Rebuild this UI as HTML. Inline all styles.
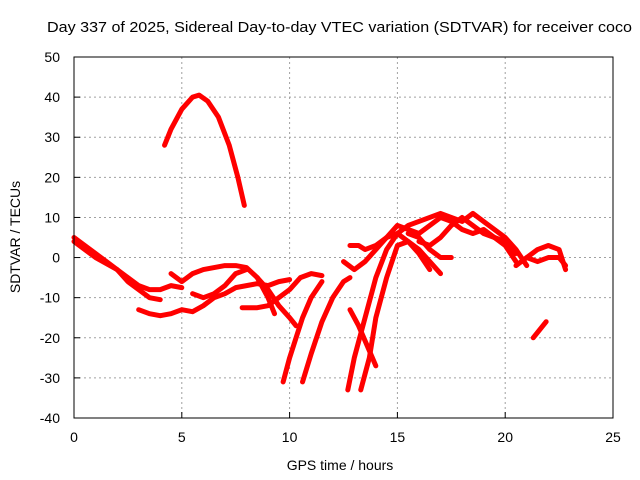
<!DOCTYPE html>
<html><head><meta charset="utf-8"><style>
body{margin:0;background:#fff}
svg{display:block;font-family:"Liberation Sans",sans-serif}
</style></head><body>
<svg id="chart" width="640" height="480" viewBox="0 0 640 480" xmlns="http://www.w3.org/2000/svg">
<rect width="640" height="480" fill="#fff"/>
<text x="47" y="32" font-size="15" textLength="585" lengthAdjust="spacingAndGlyphs">Day 337 of 2025, Sidereal Day-to-day VTEC variation (SDTVAR) for receiver coco</text>
<g id="grid"></g>
<g id="ticks" font-size="14"></g>
<g id="series"></g>
<rect x="74" y="57" width="539" height="361" fill="none" stroke="#000"/>
<text x="340" y="470" font-size="14" text-anchor="middle">GPS time / hours</text>
<text transform="translate(20,237) rotate(-90)" font-size="14" text-anchor="middle">SDTVAR / TECUs</text>
</svg>
<script>
const xTicks=[0,5,10,15,20,25];
const yTicks=[-40,-30,-20,-10,0,10,20,30,40,50];
const track1=[[4.2,28],[4.5,32],[5,37],[5.5,40],[5.8,40.5],[6.2,39],[6.7,35],[7.2,28],[7.6,20],[7.9,13]];
const track2=[[0,5],[0.5,3],[1,1],[1.5,-1],[2,-3],[2.5,-5],[3,-7],[3.5,-8],[4,-8],[4.5,-7],[5,-7.5]];
const track3=[[0,4],[1,0],[2,-3],[2.5,-6],[3,-8],[3.5,-10],[4,-10.5]];
const track4=[[4.5,-4],[5,-6],[5.5,-4],[6,-3],[7,-2],[7.5,-2],[8,-2.5],[8.5,-5],[9,-10],[9.3,-14]];
const track5=[[3,-13],[3.5,-14],[4,-14.5],[4.5,-14],[5,-13],[5.5,-13.5],[6,-12],[6.5,-10],[7,-9],[7.5,-7.5],[8,-7],[8.5,-6.5],[9,-7],[9.5,-6],[10,-5.5]];
const track6=[[5.5,-9],[6,-10],[6.5,-9],[7,-7],[7.5,-4],[8,-3]];
const track7=[[7.8,-12.5],[8.5,-12.5],[9,-12],[9.5,-10],[10,-8],[10.5,-5],[11,-4],[11.5,-4.5]];
const track8=[[8.5,-5],[9,-8],[9.5,-12],[10,-15],[10.3,-17]];
const track9=[[9.7,-31],[10,-25],[10.3,-20],[10.6,-15],[11,-10],[11.5,-6]];
const track10=[[10.6,-31],[11,-24],[11.5,-16],[12,-10],[12.5,-6],[12.8,-5]];
const track11=[[12.7,-33],[13,-25],[13.5,-15],[14,-5],[14.5,2],[15,6],[15.5,8],[16,9],[16.5,10],[17,11],[17.5,10],[18,9],[18.5,11],[19,9],[19.5,7],[20,5],[20.5,2],[21,-2]];
const track12=[[13.3,-33],[13.7,-25],[14,-15],[14.5,-5],[15,3],[15.5,4],[16,1],[16.5,-3]];
const track13=[[12.5,-1],[13,-3],[13.5,-1],[14,2],[14.5,5],[15,8],[15.5,7],[16,6],[16.5,8],[17,10],[17.5,9],[18,7],[18.5,6],[19,7],[19.5,5],[20,3],[20.5,-1]];
const track14=[[12.8,-13],[13.2,-17],[13.6,-22],[14,-27]];
const track15=[[12.8,3],[13.2,3],[13.5,2],[14,3],[14.5,5],[15,6],[15.5,4],[16,2],[16.5,-1],[17,-4]];
const track16=[[15.5,6],[16,5],[16.5,2],[17,0],[17.5,0]];
const track17=[[20.5,-2],[21,0],[21.5,2],[22,3],[22.5,2],[22.8,-3]];
const track18=[[21,0],[21.5,-1],[22,0],[22.5,0],[22.8,-2]];
const track19=[[21.3,-20],[21.9,-16]];
const track20=[[16,4],[16.5,3],[17,5],[17.5,8],[18,10],[18.5,8],[19,6],[19.5,5],[20,4],[20.5,1]];
const tracks=[track1,track2,track3,track4,track5,track6,track7,track8,track9,track10,track11,track12,track13,track14,track15,track16,track17,track18,track19,track20];

const NS="http://www.w3.org/2000/svg";
const X0=74,X1=613,Y0=418,Y1=57;
const xs=v=>X0+(v-0)/(25-0)*(X1-X0);
const ys=v=>Y0-(v+40)/90*(Y0-Y1);
function mk(t,a){const e=document.createElementNS(NS,t);for(const k in a)e.setAttribute(k,a[k]);return e;}
const grid=document.getElementById('grid'),ticks=document.getElementById('ticks'),ser=document.getElementById('series');
xTicks.forEach(t=>{
  const x=xs(t);
  if(t>0&&t<25){const l=mk('line',{x1:x,x2:x,y1:Y1,y2:Y0,stroke:'#a0a0a0','stroke-dasharray':'2,3'});
  
  grid.appendChild(l);}
  const tk=mk('line',{x1:x,x2:x,y1:Y0,y2:Y0-6,stroke:'#000'});
  
  ticks.appendChild(tk);
  const tx=mk('text',{x:x,y:Y0+24,'text-anchor':'middle'});tx.textContent=t;
  
  ticks.appendChild(tx);
});
yTicks.forEach(t=>{
  const y=ys(t);
  if(t>-40&&t<50){const l=mk('line',{x1:X0,x2:X1,y1:y,y2:y,stroke:'#a0a0a0','stroke-dasharray':'2,3'});
  
  grid.appendChild(l);}
  const tk=mk('line',{x1:X0,x2:X0+6,y1:y,y2:y,stroke:'#000'});
  
  ticks.appendChild(tk);
  const tx=mk('text',{x:X0-14,y:y+5,'text-anchor':'end'});tx.textContent=t;
  
  ticks.appendChild(tx);
});
tracks.forEach(tr=>{
  const p=mk('polyline',{points:tr.map(d=>xs(d[0])+','+ys(d[1])).join(' '),fill:'none',stroke:'#f00','stroke-width':5,'stroke-linejoin':'round','stroke-linecap':'round'});
  
  
  ser.appendChild(p);
});
</script>
</body></html>
